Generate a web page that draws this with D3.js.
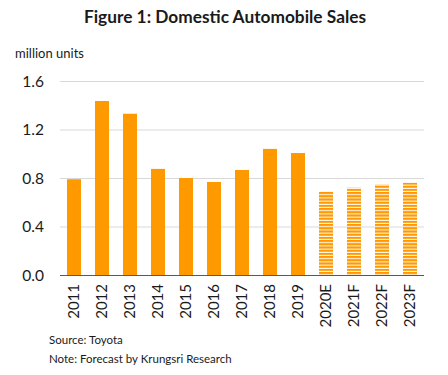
<!DOCTYPE html>
<html>
<head>
<meta charset="utf-8">
<script src="https://cdn.jsdelivr.net/npm/d3@7"></script>
<style>
  body { margin: 0; background: #fff; }
  text { font-family: Lato, "Open Sans", sans-serif; fill: #1a1a1a; }
</style>
</head>
<body>
<div id="chart"></div>
<script>
// data
var years = ["2011", "2012", "2013", "2014", "2015", "2016", "2017", "2018", "2019", "2020E", "2021F", "2022F", "2023F"];
var sales = [0.79, 1.435, 1.33, 0.875, 0.80, 0.767, 0.866, 1.04, 1.006, 0.69, 0.72, 0.745, 0.76];
var forecast = [false, false, false, false, false, false, false, false, false, true, true, true, true];
var yTicks = [0.0, 0.4, 0.8, 1.2, 1.6];

var width = 448, height = 375;
var margin = {top: 81, right: 24, bottom: 100, left: 60};
var orange = "#ff9900";

var svg = d3.select("#chart").append("svg")
    .attr("width", width)
    .attr("height", height);

var defs = svg.append("defs");
var pat = defs.append("pattern")
    .attr("id", "stripes")
    .attr("patternUnits", "userSpaceOnUse")
    .attr("width", 8)
    .attr("height", 3.2);
pat.append("rect").attr("width", 8).attr("height", 3.2).attr("fill", "#fff");
pat.append("rect").attr("width", 8).attr("height", 2.2).attr("fill", orange);

var x = d3.scaleBand()
    .domain(years)
    .range([margin.left, width - margin.right])
    .paddingInner(0.5)
    .paddingOuter(0.25);

var y = d3.scaleLinear()
    .domain([0, 1.6])
    .range([height - margin.bottom, margin.top]);

// gridlines
svg.append("g")
  .selectAll("line")
  .data(yTicks.slice(1))
  .enter().append("line")
    .attr("x1", margin.left)
    .attr("x2", width - margin.right)
    .attr("y1", function(d) { return y(d) + 0.5; })
    .attr("y2", function(d) { return y(d) + 0.5; })
    .attr("stroke", "#d9d9d9")
    .attr("stroke-width", 1);

// y labels
svg.append("g")
  .selectAll("text")
  .data(yTicks)
  .enter().append("text")
    .attr("x", 44)
    .attr("y", function(d) { return y(d); })
    .attr("dy", "0.36em")
    .attr("text-anchor", "end")
    .style("font-size", "15.5px")
    .text(function(d) { return d.toFixed(1); });

// bars
svg.append("g")
  .selectAll("rect")
  .data(years)
  .enter().append("rect")
    .attr("x", function(d) { return x(d); })
    .attr("width", x.bandwidth())
    .attr("y", function(d, i) { return y(sales[i]); })
    .attr("height", function(d, i) { return y(0) - y(sales[i]); })
    .attr("fill", function(d, i) { return forecast[i] ? "url(#stripes)" : orange; });

// x axis line
svg.append("line")
    .attr("x1", margin.left)
    .attr("x2", width - margin.right)
    .attr("y1", y(0) + 0.5)
    .attr("y2", y(0) + 0.5)
    .attr("stroke", "#595959")
    .attr("stroke-width", 1.2);

// x labels, rotated
svg.append("g")
  .selectAll("text")
  .data(years)
  .enter().append("text")
    .attr("transform", function(d) {
      return "translate(" + (x(d) + x.bandwidth() / 2) + "," + (y(0) + 9) + ") rotate(-90)";
    })
    .attr("dy", "0.36em")
    .attr("text-anchor", "end")
    .style("font-size", "15px")
    .text(function(d) { return d; });

// titles and notes
svg.append("text")
    .attr("x", 225)
    .attr("y", 23)
    .attr("text-anchor", "middle")
    .style("font-size", "17.3px")
    .style("font-weight", "bold")
    .text("Figure 1: Domestic Automobile Sales");

svg.append("text")
    .attr("x", 15)
    .attr("y", 58)
    .style("font-size", "13px")
    .text("million units");

svg.append("text")
    .attr("x", 49)
    .attr("y", 344)
    .style("font-size", "11.5px")
    .text("Source: Toyota");

svg.append("text")
    .attr("x", 49)
    .attr("y", 363)
    .style("font-size", "11.5px")
    .text("Note: Forecast by Krungsri Research");
</script>
</body>
</html>
